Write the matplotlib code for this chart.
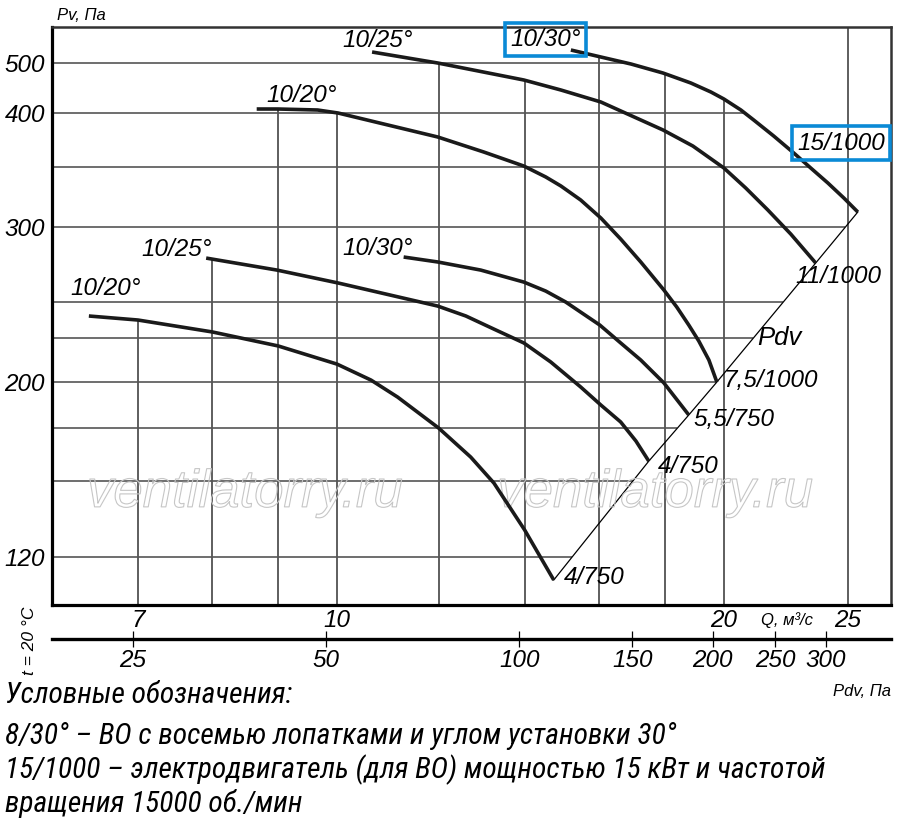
import os
import numpy as np
import matplotlib
matplotlib.use("Agg")
import matplotlib.pyplot as plt
from matplotlib import font_manager
from matplotlib.font_manager import FontProperties
from matplotlib.ticker import NullLocator
import matplotlib.patheffects as pe

plt.rcParams['font.family'] = ['Liberation Sans', 'DejaVu Sans']
plt.rcParams['font.style'] = 'italic'

# --- data: Q, m3/s  and  Pv, Pa ---
q_20_low = [6.41, 7.0, 8.0, 9.0, 10.0, 10.63, 11.15, 12.0, 12.71, 13.25, 14.0, 14.75]
p_20_low = [240.3, 237.5, 229.2, 220.5, 210.2, 201.1, 191.8, 175, 161.3, 149.2, 130.7, 111.0]

q_25_low = [7.91, 8.98, 10.02, 11.98, 12.60, 13.25, 13.98, 14.67, 15.48, 16.05, 16.63, 17.09, 17.49]
p_25_low = [279.3, 271.3, 262.7, 247.2, 240.3, 231.2, 222.2, 211.4, 197.3, 187.5, 178.3, 168.9, 159.4]

q_30_low = [11.27, 11.98, 12.94, 13.98, 14.54, 15.07, 16.02, 16.63, 17.24, 17.97, 18.79]
p_30_low = [280.0, 276.7, 271.3, 263.3, 257.3, 250.0, 234.0, 222.2, 212.5, 199.5, 182.1]

q_20_up = [8.66, 9.0, 9.66, 10.02, 11.98, 13.01, 13.98, 14.54, 14.94, 15.48, 16.05,
           16.63, 17.24, 17.97, 18.39, 18.79, 19.13, 19.48, 19.76]
p_20_up = [408, 408, 406, 400, 377.8, 363.9, 350.9, 341.7, 334.2, 322.5, 307.5,
           292.0, 276.7, 258.0, 246.5, 234.0, 223.3, 212.5, 200.0]

q_25_up = [10.65, 11.98, 13.98, 14.94, 16.05, 17.94, 18.93, 20.01, 20.81, 21.65, 22.56, 23.59]
p_25_up = [522, 500, 466, 446, 422, 384.3, 369.4, 349.2, 332.5, 314.2, 295.3, 276.0]

q_30_up = [15.21, 16.05, 16.94, 17.94, 18.86, 19.55, 20.01, 20.63, 21.11, 21.88,
           22.68, 23.38, 24.11, 24.81, 25.44]
p_30_up = [526, 512, 498, 480, 460, 442, 428, 406, 393.5, 378.7,
           363.0, 349.2, 336.7, 324.2, 312.5]

start_labels = ['10/20°', '10/25°', '10/30°', '10/20°', '10/25°', '10/30°']
end_labels = ['4/750', '4/750', '5,5/750', '7,5/1000', '11/1000', '15/1000']

q_grid = [7, 8, 9, 10, 12, 14, 16, 18, 20, 25]
p_grid = [120, 150, 175, 200, 225, 250, 300, 350, 400, 500]
q_ticks = [7, 10, 20, 25]
p_ticks = [120, 200, 300, 400, 500]
pdv_ticks = [25, 50, 100, 150, 200, 250, 300]
pdv_k = 0.52   # Pdv = k * Q^2

notes = ['Условные обозначения:',
         '8/30° – ВО с восемью лопатками и углом установки 30°',
         '15/1000 – электродвигатель (для ВО) мощностью 15 кВт и частотой',
         'вращения 15000 об./мин']

# non-uniform pressure scale of the original sheet
scale_p = np.array([100, 120, 150, 175, 200, 225, 250, 300, 350, 400, 500, 600])
scale_y = -np.array([608, 557, 481, 428, 382, 338, 302, 227, 167, 113, 63, 13], dtype=float)


def fwd(p):
    return np.interp(p, scale_p, scale_y)


def inv(v):
    return np.interp(v, scale_y, scale_p)


def find_condensed():
    prefs = ['liberationsansnarrow', 'robotocondensed', 'notosans-condensed',
             'dejavusanscondensed', 'opensans']
    bad = ('bold', 'semi', 'extra', 'light', 'thin', 'black', 'medium', 'ultra',
           'heavy', 'mono', 'serif')
    found = []
    for f in font_manager.fontManager.ttflist:
        b = os.path.basename(f.fname).lower().replace(' ', '')
        if ('condensed' in b or 'narrow' in b) and ('italic' in b or 'oblique' in b) \
                and not any(w in b for w in bad):
            found.append(f.fname)
    for p in prefs:
        for fn in found:
            if os.path.basename(fn).lower().startswith(p):
                return fn
    return None


curves = [(q_20_low, p_20_low), (q_25_low, p_25_low), (q_30_low, p_30_low),
          (q_20_up, p_20_up), (q_25_up, p_25_up), (q_30_up, p_30_up)]

fig = plt.figure(figsize=(9, 8.3), dpi=100)
ax = fig.add_axes([52 / 900, 1 - 605 / 830, 839 / 900, 578 / 830])
ax.set_xscale('log')
ax.set_yscale('function', functions=(fwd, inv))
qmin, qmax = 6.0, 27.0
pmin, pmax = 101.2, 572
ax.set_xlim(qmin, qmax)
ax.set_ylim(pmin, pmax)

# vertical grid: from the bottom up to the highest curve
for q in q_grid:
    tops = [np.interp(np.log(q), np.log(c[0]), c[1]) for c in curves
            if c[0][0] <= q <= c[0][-1]]
    top = pmax if (q == q_grid[-1] or not tops) else max(tops)
    ax.vlines(q, pmin, top, color='#333333', lw=1.1, zorder=1)

# horizontal grid: from the left edge to the envelope (top curve + Pdv line)
end_q = np.array([c[0][-1] for c in curves])
end_p = np.array([c[1][-1] for c in curves])
order = np.argsort(end_q)
end_q, end_p = end_q[order], end_p[order]
for p in p_grid:
    if p <= end_p.max():
        qe = np.exp(np.interp(fwd(p), fwd(end_p), np.log(end_q)))
    else:
        qe = np.exp(np.interp(fwd(p), fwd(np.array(p_30_up[::-1])), np.log(q_30_up[::-1])))
    ax.hlines(p, qmin, qe, color='#555555', lw=1.2, zorder=1)

# Pdv diagonal through the curve ends
ax.plot(end_q, end_p, color='black', lw=0.9, zorder=2)

for q, p in curves:
    ax.plot(q, p, color='#1a1a1a', lw=2.6, solid_capstyle='butt',
            solid_joinstyle='round', zorder=3)

# curve labels (offsets in points)
start_off = [(12, 20), (-21, 6.5), (-19, 6), (32, 10), (4, 8.5), (-18, 7.5)]
end_off = [(7, 2), (6.5, -3.6), (3.6, -3.6), (5, 1.4), (16.5, -10), (-12, 49.5)]
end_ha = ['left', 'left', 'left', 'left', 'center', 'center']
box = dict(boxstyle='square,pad=0.22', fc='none', ec='#0a8ad6', lw=2.6)
for i, (q, p) in enumerate(curves):
    ax.annotate(start_labels[i], (q[0], p[0]), xytext=start_off[i],
                textcoords='offset points', ha='center', va='center', fontsize=17.5,
                bbox=box if i == 5 else None, zorder=4)
    ax.annotate(end_labels[i], (q[-1], p[-1]), xytext=end_off[i],
                textcoords='offset points', ha=end_ha[i], va='center', fontsize=17.5,
                bbox=box if i == 5 else None, zorder=4)
ax.annotate('Pdv', (q_20_up[-1], p_20_up[-1]), xytext=(45, 32),
            textcoords='offset points', ha='center', va='center', fontsize=18.5, zorder=4)

# watermark
for xw in (0.23, 0.719):
    ax.text(xw, 0.194, 'ventilatorry.ru', transform=ax.transAxes, ha='center', va='center',
            fontsize=38, color='none',
            path_effects=[pe.Stroke(linewidth=0.8, foreground='#c6c6c6')], zorder=2)

# axes styling
for side in ('left', 'bottom'):
    ax.spines[side].set_linewidth(2.3)
for side in ('top', 'right'):
    ax.spines[side].set_linewidth(1.8)
    ax.spines[side].set_color('#333333')

ax.xaxis.set_minor_locator(NullLocator())
ax.yaxis.set_minor_locator(NullLocator())
ax.set_xticks(q_ticks)
ax.set_xticklabels([str(v) for v in q_ticks])
ax.set_yticks(p_ticks)
ax.set_yticklabels([str(v) for v in p_ticks])
ax.tick_params(axis='both', length=0, labelsize=17.5)
ax.tick_params(axis='x', pad=3)
ax.tick_params(axis='y', pad=5)

sec = ax.secondary_xaxis(-34 / 578, functions=(lambda q: pdv_k * q ** 2,
                                               lambda p: np.sqrt(np.maximum(p, 1e-9) / pdv_k)))
sec.set_xticks(pdv_ticks)
sec.set_xticklabels([str(v) for v in pdv_ticks])
sec.xaxis.set_minor_locator(NullLocator())
sec.spines['bottom'].set_linewidth(2.4)
sec.tick_params(direction='inout', length=12, width=0.9, labelsize=17.5, pad=1)

ax.text(0.876, -15 / 578, 'Q, м³/с', transform=ax.transAxes, ha='center', va='center', fontsize=12)
ax.text(0.006, 1 + 12 / 578, 'Pv, Па', transform=ax.transAxes, ha='left', va='center', fontsize=12)
ax.text(1.0, -87 / 578, 'Pdv, Па', transform=ax.transAxes, ha='right', va='center', fontsize=12)
ax.text(-23 / 839, -36 / 578, 't = 20 °C', transform=ax.transAxes, ha='center', va='center',
        rotation=90, fontsize=12.5)

# legend notes in a condensed italic face if one is installed, sized to the original width
cond = find_condensed()
note_y = [695, 736, 770, 803]
note_texts = []
for txt, yy in zip(notes, note_y):
    fp = FontProperties(fname=cond, size=20) if cond else FontProperties(
        family=['Liberation Sans', 'DejaVu Sans'], style='italic', size=20)
    note_texts.append(fig.text(5 / 900, 1 - yy / 830, txt, ha='left', va='center',
                               fontproperties=fp))
renderer = fig.canvas.get_renderer()
w = note_texts[2].get_window_extent(renderer).width
size = 20 * 821 / w
for t in note_texts:
    t.set_fontsize(size)

fig.savefig('out.png', dpi=100)
